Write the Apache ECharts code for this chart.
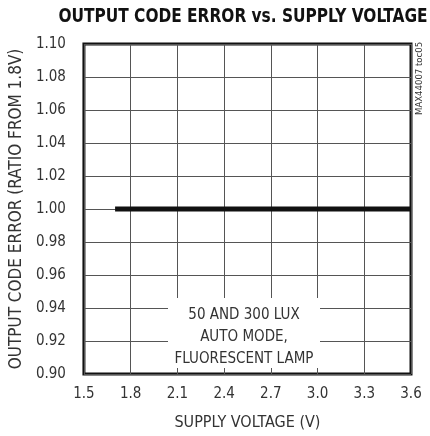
<!DOCTYPE html>
<html>
<head>
<meta charset="utf-8">
<script src="https://cdn.jsdelivr.net/npm/echarts@6/dist/echarts.min.js"></script>
<style>
  html, body { margin: 0; padding: 0; background: #fff; }
  #chart { width: 430px; height: 436px; }
</style>
</head>
<body>
<div id="chart"></div>
<script>
// measured points (supply voltage, V) and output code error ratio
const voltage = [1.7, 1.8, 2.1, 2.4, 2.7, 3.0, 3.3, 3.6]
const codeError = [1.0, 1.0, 1.0, 1.0, 1.0, 1.0, 1.0, 1.0]
const noteLines = ['50 AND 300 LUX', 'AUTO MODE,', 'FLUORESCENT LAMP']

const FONT = '"Liberation Sans Narrow", "DejaVu Sans Condensed", "Liberation Sans", sans-serif'

const chart = echarts.init(document.getElementById('chart'))

const option = {
  animation: false,
  grid: {
    left: 80,
    right: 19,
    top: 44,
    bottom: 59,
    show: true,
    borderColor: '#111',
    borderWidth: 3
  },
  xAxis: {
    type: 'value',
    min: 1.5,
    max: 3.6,
    interval: 0.3,
    name: 'SUPPLY VOLTAGE (V)',
    nameLocation: 'middle',
    nameGap: 41,
    nameTextStyle: { fontFamily: FONT, fontSize: 16, color: '#333' },
    axisLine: { show: false },
    axisTick: { show: false },
    axisLabel: {
      margin: 13,
      fontFamily: FONT,
      fontSize: 15,
      color: '#333',
      formatter: (v) => v.toFixed(1)
    },
    splitLine: { show: true, lineStyle: { color: '#555', width: 1 } }
  },
  yAxis: {
    type: 'value',
    min: 0.9,
    max: 1.1,
    interval: 0.02,
    name: 'OUTPUT CODE ERROR (RATIO FROM 1.8V)',
    nameLocation: 'middle',
    nameGap: 57,
    nameTextStyle: { fontFamily: FONT, fontSize: 17, color: '#333' },
    axisLine: { show: false },
    axisTick: { show: false },
    axisLabel: {
      margin: 18,
      fontFamily: FONT,
      fontSize: 15,
      color: '#333',
      formatter: (v) => v.toFixed(2)
    },
    splitLine: { show: true, lineStyle: { color: '#555', width: 1 } }
  },
  graphic: [
    {
      // condensed bold title
      type: 'text',
      x: 243,
      y: 7,
      scaleX: 0.855,
      style: {
        text: 'OUTPUT CODE ERROR vs. SUPPLY VOLTAGE',
        fontFamily: FONT,
        fontSize: 20,
        fontWeight: 'bold',
        fill: '#111',
        textAlign: 'center'
      }
    },
    {
      type: 'rect',
      shape: { x: 168, y: 298, width: 152, height: 70 },
      style: { fill: '#fff' },
      z: 5
    },
    {
      type: 'text',
      x: 244,
      y: 304,
      z: 6,
      style: {
        text: noteLines.join('\n'),
        fontFamily: FONT,
        fontSize: 15,
        lineHeight: 22,
        fill: '#333',
        textAlign: 'center'
      }
    },
    {
      type: 'text',
      x: 415,
      y: 115,
      rotation: Math.PI / 2,
      style: {
        text: 'MAX44007 toc05',
        fontFamily: FONT,
        fontSize: 9.5,
        fill: '#333'
      }
    }
  ],
  series: [
    {
      type: 'line',
      data: voltage.map((v, i) => [v, codeError[i]]),
      showSymbol: false,
      lineStyle: { color: '#111', width: 5 },
      z: 4
    }
  ]
}

chart.setOption(option)
</script>
</body>
</html>
